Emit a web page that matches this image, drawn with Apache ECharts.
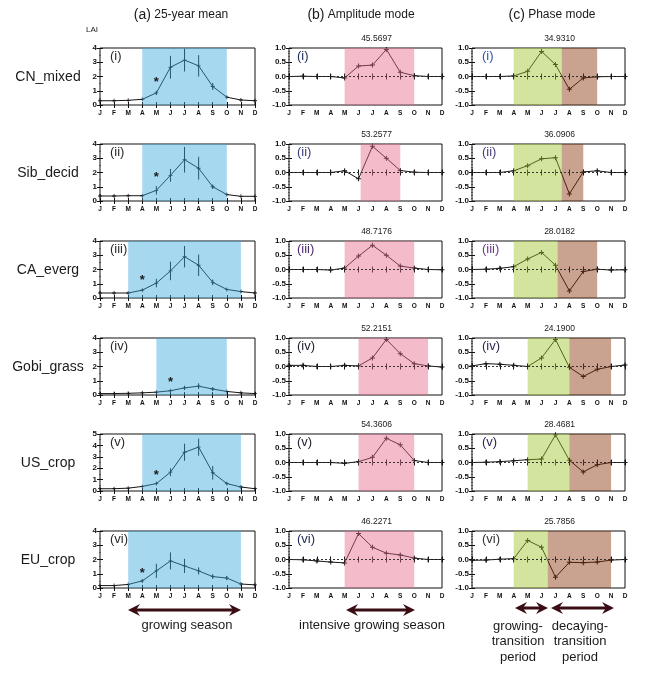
<!DOCTYPE html>
<html><head><meta charset="utf-8">
<script src="https://cdn.jsdelivr.net/npm/echarts@6/dist/echarts.min.js"></script>
<style>html,body{margin:0;padding:0;background:#fff}#c{width:646px;height:674px}</style>
</head><body><div id="c"></div>
<script>
// ---------------- DATA ----------------
const months = ['J','F','M','A','M','J','J','A','S','O','N','D'];
const sites = ['CN_mixed','Sib_decid','CA_everg','Gobi_grass','US_crop','EU_crop'];
const romans = ['(i)','(ii)','(iii)','(iv)','(v)','(vi)'];

// (a) 25-year mean LAI and error bars
const laiCN   = [0.30,0.30,0.33,0.40,0.85,2.65,3.15,2.75,1.30,0.55,0.35,0.30];
const errCN   = [0,0,0,0,0.15,0.80,0.80,0.75,0.25,0.05,0,0];
const laiSib  = [0.35,0.35,0.37,0.37,0.75,1.80,2.90,2.30,1.00,0.45,0.33,0.33];
const errSib  = [0,0,0,0,0.30,0.45,0.90,0.80,0.15,0.05,0,0];
const laiCA   = [0.35,0.35,0.35,0.55,1.05,1.90,2.90,2.30,1.10,0.60,0.45,0.35];
const errCA   = [0,0,0,0.05,0.30,0.65,0.75,0.75,0.20,0.05,0.05,0];
const laiGobi = [0.10,0.10,0.12,0.15,0.20,0.30,0.50,0.62,0.42,0.25,0.15,0.10];
const errGobi = [0,0,0,0,0,0.05,0.15,0.20,0.10,0,0,0];
const laiUS   = [0.20,0.20,0.25,0.40,0.65,1.65,3.40,3.85,1.60,0.65,0.35,0.20];
const errUS   = [0,0,0,0,0.10,0.35,0.75,0.75,0.60,0.10,0,0];
const laiEU   = [0.17,0.17,0.25,0.50,1.20,1.90,1.55,1.20,0.80,0.70,0.28,0.22];
const errEU   = [0,0,0,0.10,0.50,0.60,0.50,0.25,0.15,0.15,0,0];
const starMonth = [4,4,3,5,4,3];
const starLAI   = [1.82,1.86,1.43,1.10,1.65,1.22];
const gsStart = [3,3,2,4,3,2];
const gsEnd   = [9,9,10,9,10,10];
const laiMax  = [4,4,4,4,5,4];

// (b) amplitude mode
const ampCN   = [0,0.01,0,0,-0.05,0.37,0.40,0.95,0.15,0.03,0,0];
const ampSib  = [0,0,0,0,0.06,-0.22,0.92,0.50,0.07,0.01,0,0];
const ampCA   = [0,0,0,-0.02,0.05,0.47,0.85,0.50,0.12,0.05,0,-0.01];
const ampGobi = [0.04,0.04,0,0,0.04,0.02,0.30,0.95,0.45,0.10,0.02,-0.02];
const ampUS   = [0,0,0,0,-0.03,0.03,0.18,0.85,0.62,0.07,0,0];
const ampEU   = [0,-0.01,-0.05,-0.09,-0.12,0.91,0.43,0.22,0.16,0.05,0,0];
const ampVar  = ['45.5697','53.2577','48.7176','52.2151','54.3606','46.2271'];
const igsStart = [4,5.15,4,5,5,4];
const igsEnd   = [9,8,9,10,9,9];

// (c) phase mode
const phCN   = [0,0,0,0.02,0.18,0.88,0.42,-0.45,-0.05,-0.01,0,0];
const phSib  = [0,0,0,0.06,0.24,0.48,0.52,-0.75,0.02,0.06,0,0];
const phCA   = [0,0.01,0.04,0.10,0.37,0.60,0.15,-0.75,-0.07,0.01,-0.02,-0.01];
const phGobi = [0.02,0.10,0.08,0.04,0,0.30,0.95,-0.03,-0.35,-0.10,0,0.05];
const phUS   = [0,0.01,0.03,0.06,0.10,0.12,0.97,0.08,-0.33,-0.08,0,0];
const phEU   = [-0.03,-0.02,0.01,0.03,0.67,0.43,-0.62,-0.10,-0.11,-0.09,-0.02,0];
const phVar  = ['34.9310','36.0906','28.0182','24.1900','28.4681','25.7856'];
const growStart = [3,3,3,4,4,3];
const growEnd   = [6.45,6.45,6.15,7,7,5.45];
const decayEnd  = [9,8,9,10,10,10];

// ---------------- BUILD ----------------
const laiMeans = [laiCN,laiSib,laiCA,laiGobi,laiUS,laiEU];
const laiErrs  = [errCN,errSib,errCA,errGobi,errUS,errEU];
const ampModes = [ampCN,ampSib,ampCA,ampGobi,ampUS,ampEU];
const phModes  = [phCN,phSib,phCA,phGobi,phUS,phEU];

const FONT = '"Liberation Sans", Arial, Helvetica, sans-serif';
const SHADE = ['rgba(58,169,222,0.45)','rgba(231,104,140,0.45)','rgba(156,196,40,0.45)','rgba(136,51,9,0.45)'];
const PLUS = 'path://M4,0h2v4h4v2h-4v4h-2v-4h-4v-2h4z';
const LINE = '#161616';
const colLeft = [100, 289, 472];
const colWidth = [155, 153, 153];
const rowTop = [48, 144, 241, 338, 434, 531];
const rowH = 57;
const romanColor = [
  ['#2a2a2a','#2a2a2a','#2a2a2a','#2a2a2a','#2a2a2a','#2a2a2a'],
  ['#1c2a55','#383a78','#4a2a72','#222233','#222233','#1c2a55'],
  ['#2a58a8','#4a3a7c','#6a3a8a','#2a2a55','#2a2a55','#333']
];

const grid=[], xAxis=[], yAxis=[], series=[], graphic=[];

function addPanel(r, c) {
  const p = grid.length;
  const left = colLeft[c], top = rowTop[r], w = colWidth[c], h = rowH;
  const isA = c === 0;
  const yMin = isA ? 0 : -1, yMax = isA ? laiMax[r] : 1, yInt = isA ? 1 : 0.5;
  grid.push({left, top, width: w, height: h, show: true, borderColor: '#111', borderWidth: 1, backgroundColor: 'rgba(0,0,0,0)'});
  const tick = {show: true, inside: true, length: 3, lineStyle: {color: '#111', width: 1}};
  const minor = {show: true, splitNumber: isA ? 2 : 5, length: 1, lineStyle: {color: '#555', width: 1}};
  xAxis.push({gridIndex: p, type: 'value', min: 0, max: 11, interval: 1, position: 'bottom',
    axisLine: {show: false}, axisTick: tick, splitLine: {show: false},
    axisLabel: {formatter: v => months[v] || '', fontSize: 6.5, fontWeight: 'bold', color: '#111', margin: 5,
      fontFamily: FONT, showMinLabel: true, showMaxLabel: true}});
  xAxis.push({gridIndex: p, type: 'value', min: 0, max: 11, interval: 1, position: 'top',
    axisLine: {show: false}, axisTick: tick, splitLine: {show: false}, axisLabel: {show: false}});
  yAxis.push({gridIndex: p, type: 'value', min: yMin, max: yMax, interval: yInt, position: 'left',
    axisLine: {show: false}, axisTick: tick, minorTick: minor, splitLine: {show: false}, minorSplitLine: {show: false},
    axisLabel: {formatter: v => isA ? String(v) : v.toFixed(1), fontSize: 8, fontWeight: 'bold', color: '#111',
      margin: 3, fontFamily: FONT, showMinLabel: true, showMaxLabel: true}});
  yAxis.push({gridIndex: p, type: 'value', min: yMin, max: yMax, interval: yInt, position: 'right',
    axisLine: {show: false}, axisTick: tick, minorTick: minor, splitLine: {show: false}, minorSplitLine: {show: false},
    axisLabel: {show: false}});

  const xi = 2 * p, yi = 2 * p;
  const vals = isA ? laiMeans[r] : (c === 1 ? ampModes[r] : phModes[r]);

  const main = {type: 'line', xAxisIndex: xi, yAxisIndex: yi, data: vals.map((v, i) => [i, v]),
    symbol: PLUS, symbolSize: isA ? 4 : 5, lineStyle: {color: LINE, width: 1}, itemStyle: {color: LINE},
    z: 2, silent: true};
  if (!isA) {
    main.markLine = {silent: true, symbol: 'none', label: {show: false},
      lineStyle: {type: [2, 2], color: '#333', width: 1}, data: [{yAxis: 0}]};
  }
  series.push(main);

  if (isA) {
    const err = laiErrs[r];
    series.push({type: 'custom', xAxisIndex: xi, yAxisIndex: yi, silent: true, z: 2,
      data: vals.map((v, i) => [i, v - err[i], v + err[i]]).filter((d, i) => err[i] > 0),
      encode: {x: 0, y: [1, 2]},
      renderItem: (params, api) => {
        const a = api.coord([api.value(0), api.value(1)]);
        const b = api.coord([api.value(0), api.value(2)]);
        return {type: 'line', shape: {x1: a[0], y1: a[1], x2: b[0], y2: b[1]}, style: {stroke: LINE, lineWidth: 1}};
      }});
    series.push({type: 'custom', xAxisIndex: xi, yAxisIndex: yi, silent: true, z: 5,
      data: [[starMonth[r], starLAI[r]]], encode: {x: 0, y: 1},
      renderItem: (params, api) => {
        const pt = api.coord([api.value(0), api.value(1)]);
        return {type: 'text', x: pt[0], y: pt[1] + 3,
          style: {text: '*', fontSize: 13, fontWeight: 'bold', fontFamily: FONT, fill: '#1a1a1a', align: 'center', verticalAlign: 'middle'}};
      }});
  }

  let shades;
  if (c === 0) shades = [[gsStart[r], gsEnd[r], 0]];
  else if (c === 1) shades = [[igsStart[r], igsEnd[r], 1]];
  else shades = [[growStart[r], growEnd[r], 2], [growEnd[r], decayEnd[r], 3]];
  series.push({type: 'custom', xAxisIndex: xi, yAxisIndex: yi, silent: true, z: 4,
    data: shades, encode: {x: [0, 1]},
    renderItem: (params, api) => {
      const cs = params.coordSys;
      const a = api.coord([api.value(0), yMin]);
      const b = api.coord([api.value(1), yMin]);
      return {type: 'rect', shape: {x: a[0], y: cs.y, width: b[0] - a[0], height: cs.height},
        style: {fill: SHADE[api.value(2)]}};
    }});

  graphic.push({type: 'text', x: left + (c === 1 ? 8 : 10), y: top + 2, z: 100,
    style: {text: romans[r], fontSize: 13, fontFamily: FONT, fill: romanColor[c][r], align: 'left', verticalAlign: 'top'}});
  if (c > 0) {
    graphic.push({type: 'text', x: left + w / 2 + 11, y: top - 9, z: 100,
      style: {text: (c === 1 ? ampVar : phVar)[r], fontSize: 8.5, fontFamily: FONT, fill: '#1a1a1a', align: 'center', verticalAlign: 'middle'}});
  }
  if (c === 0) {
    graphic.push({type: 'text', x: 48, y: top + 29, z: 100,
      style: {text: sites[r], fontSize: 14, fontFamily: FONT, fill: '#1a1a1a', align: 'center', verticalAlign: 'middle'}});
  }
}

for (let r = 0; r < 6; r++) for (let c = 0; c < 3; c++) addPanel(r, c);

function hdr(x, letter, rest) {
  graphic.push({type: 'text', x, y: 15, z: 100,
    style: {text: '{b|' + letter + '} ' + rest, fontSize: 12, fontFamily: FONT, fill: '#1a1a1a', align: 'center', verticalAlign: 'middle',
      rich: {b: {fontSize: 14, fontFamily: FONT, fill: '#1a1a1a'}}}});
}
hdr(181, '(a)', '25-year mean');
hdr(361, '(b)', 'Amplitude mode');
hdr(552, '(c)', 'Phase mode');
graphic.push({type: 'text', x: 92, y: 30, z: 100,
  style: {text: 'LAI', fontSize: 8, fontFamily: FONT, fill: '#1a1a1a', align: 'center', verticalAlign: 'middle'}});

const AC = '#3a0d12';
function arrow(x1, x2, y) {
  graphic.push({type: 'line', z: 100, shape: {x1: x1 + 6, y1: y, x2: x2 - 6, y2: y}, style: {stroke: AC, lineWidth: 3}});
  graphic.push({type: 'polygon', z: 100, shape: {points: [[x1, y], [x1 + 12, y - 6], [x1 + 8, y], [x1 + 12, y + 6]]}, style: {fill: AC}});
  graphic.push({type: 'polygon', z: 100, shape: {points: [[x2, y], [x2 - 12, y - 6], [x2 - 8, y], [x2 - 12, y + 6]]}, style: {fill: AC}});
}
arrow(128, 241, 610);
arrow(346, 415, 610);
arrow(515, 548, 608);
arrow(551, 614, 608);
function btxt(x, y, t) {
  graphic.push({type: 'text', x, y, z: 100,
    style: {text: t, fontSize: 13, fontFamily: FONT, fill: '#1a1a1a', align: 'center', verticalAlign: 'middle'}});
}
btxt(187, 625, 'growing season');
btxt(372, 625, 'intensive growing season');
btxt(518, 626, 'growing-'); btxt(518, 641, 'transition'); btxt(518, 657, 'period');
btxt(580, 626, 'decaying-'); btxt(580, 641, 'transition'); btxt(580, 657, 'period');

const chart = echarts.init(document.getElementById('c'), null, {renderer: 'canvas'});
chart.setOption({animation: false, backgroundColor: '#fff', grid, xAxis, yAxis, series, graphic});
</script></body></html>
